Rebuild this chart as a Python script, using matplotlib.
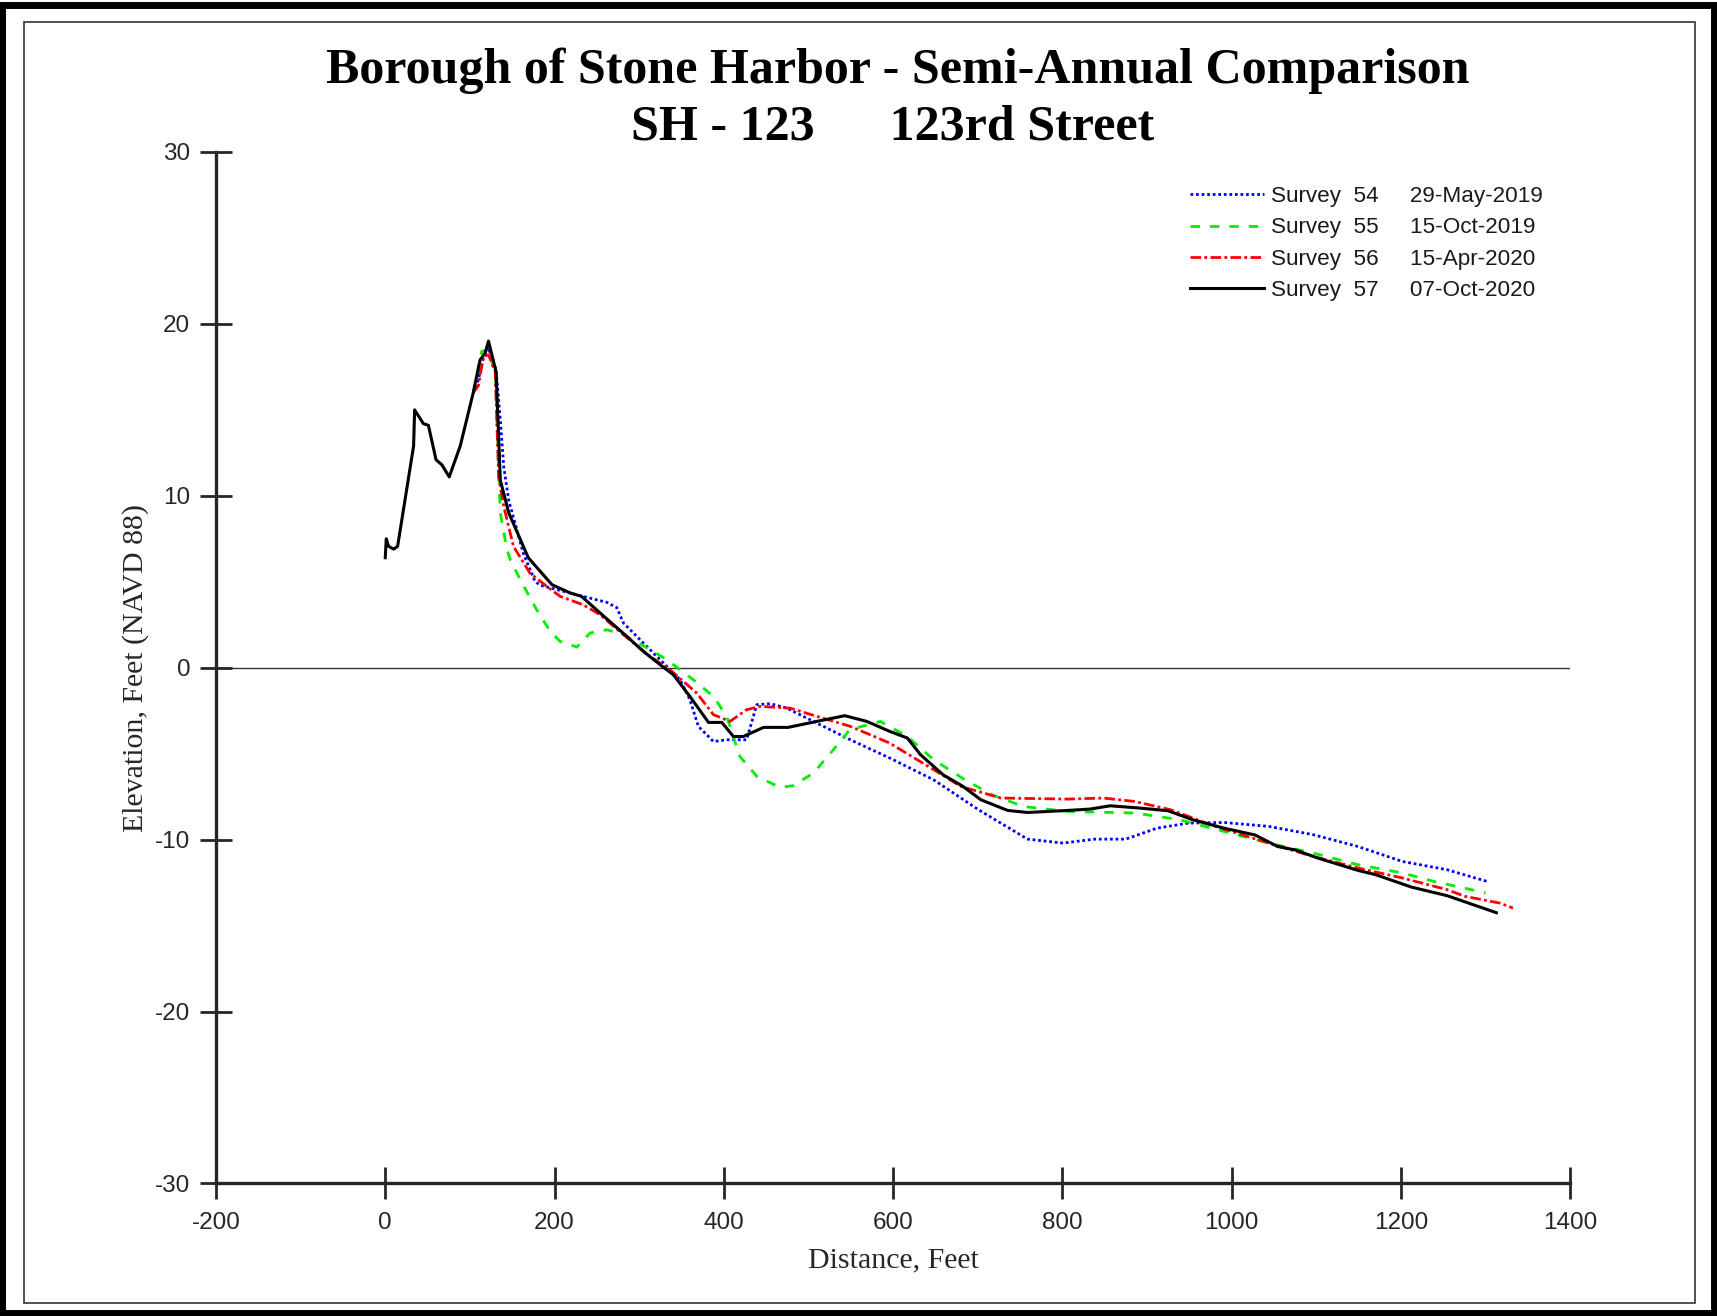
import numpy as np
import matplotlib
matplotlib.use('Agg')
import matplotlib.pyplot as plt
from matplotlib.patches import Rectangle

plt.rcParams['axes.unicode_minus'] = False

# survey 57 - 07-Oct-2020
x57 = [0, 1.2, 4, 10, 14.6, 33.5, 34.7, 45, 51, 60, 67, 75.6, 88.6, 104, 112, 118, 122, 131,
       136, 146, 169, 197, 218.5, 232, 254, 285.5, 305, 325, 340.5, 360, 382, 397.7, 411.4,
       423, 447, 476, 510, 543, 569, 596, 617, 632.5, 659, 682.6, 703.8, 735.4, 759, 806.6,
       833, 856.7, 891, 925, 954, 991, 1028, 1054.5, 1075.5, 1102, 1149.5, 1170.5, 1212.6,
       1254.8, 1313]
y57 = [6.4, 7.5, 7.06, 6.9, 7.06, 12.9, 15.0, 14.2, 14.1, 12.1, 11.8, 11.1, 12.9, 16.0, 17.9,
       18.3, 19.0, 17.2, 10.9, 9.0, 6.4, 4.83, 4.35, 4.15, 3.18, 1.82, 0.95, 0.17, -0.41, -1.67,
       -3.18, -3.18, -4.0, -4.0, -3.47, -3.47, -3.12, -2.79, -3.12, -3.7, -4.09, -5.06, -6.22,
       -6.9, -7.68, -8.3, -8.42, -8.3, -8.22, -8.03, -8.16, -8.32, -8.84, -9.33, -9.73, -10.4,
       -10.6, -11.07, -11.79, -12.04, -12.76, -13.26, -14.25]

# survey 54 - 29-May-2019
x54 = [104, 110, 116, 122, 131, 136, 140, 146, 153.5, 163, 177, 183, 203, 218.5, 238, 262,
       273.5, 281.5, 309, 328.8, 348.5, 360, 370, 387.8, 403.5, 427, 439, 455, 474.5, 510,
       549.6, 596, 648, 701, 759, 801, 838, 875, 912, 949, 991, 1044, 1096.5, 1149.5, 1202,
       1254.8, 1302]
y54 = [16.0, 16.75, 18.0, 18.6, 17.3, 14.4, 11.7, 9.7, 8.4, 6.67, 5.02, 4.8, 4.54, 4.35, 4.1,
       3.8, 3.5, 2.6, 1.24, 0.27, -0.7, -1.86, -3.41, -4.29, -4.19, -4.19, -2.15, -2.09, -2.35,
       -3.22, -4.19, -5.25, -6.52, -8.26, -9.97, -10.2, -9.97, -9.97, -9.33, -9.04, -9.0,
       -9.23, -9.71, -10.4, -11.27, -11.75, -12.43]

# survey 55 - 15-Oct-2019
x55 = [104, 114, 122, 130, 134, 136, 143.7, 147.6, 159.5, 179, 195, 206.7, 226.5, 242, 262,
       281.5, 313, 332.7, 364, 387.8, 403.5, 419, 439, 466.6, 482, 506, 529.5, 549, 585, 617,
       648, 685, 717, 754, 806.6, 885.7, 938.5, 991, 1044, 1096.5, 1149.5, 1202, 1239,
       1291.8, 1300]
y55 = [16.0, 18.4, 18.5, 17.1, 11.5, 9.0, 6.9, 6.3, 5.12, 3.37, 2.11, 1.53, 1.2, 2.02, 2.21,
       1.92, 1.05, 0.47, -0.7, -1.67, -2.83, -5.16, -6.32, -6.96, -6.86, -6.13, -4.77, -3.6,
       -3.12, -4.0, -5.35, -6.52, -7.39, -8.07, -8.36, -8.45, -8.84, -9.52, -10.2, -10.78,
       -11.46, -11.94, -12.43, -13.0, -13.1]

# survey 56 - 15-Apr-2020
x56 = [104, 110, 116, 122, 130, 134, 140, 151.5, 171, 191, 206.7, 234, 254, 281.5, 313, 336.6,
       368, 387.8, 407.5, 427, 443, 478.5, 510, 549.6, 596, 648, 680, 727.5, 806.6, 848.8,
       885.7, 928, 980.7, 1044, 1096.5, 1149.5, 1202, 1254.8, 1276, 1317, 1332.7]
y56 = [16.0, 16.4, 18.1, 18.2, 17.2, 11.1, 9.4, 7.06, 5.5, 4.73, 4.15, 3.66, 3.08, 1.92, 0.66,
       -0.12, -1.47, -2.73, -3.12, -2.44, -2.25, -2.35, -2.83, -3.41, -4.38, -5.93, -6.9,
       -7.58, -7.64, -7.58, -7.78, -8.26, -9.23, -10.2, -10.98, -11.65, -12.23, -12.91,
       -13.3, -13.69, -13.98]

labels = ['Survey  54     29-May-2019',
          'Survey  55     15-Oct-2019',
          'Survey  56     15-Apr-2020',
          'Survey  57     07-Oct-2020']

serif = 'Liberation Serif'
sans = 'Liberation Sans'

fig = plt.figure(figsize=(17.17, 13.16), dpi=100)

# page frames
fig.patches.append(Rectangle((0.001, 0.002), 0.997, 0.994, transform=fig.transFigure,
                             fill=False, ec='black', lw=5))
fig.patches.append(Rectangle((24/1717, 1 - 1303/1316), (1695-24)/1717, (1303-22)/1316,
                             transform=fig.transFigure, fill=False, ec='#333333', lw=1.2))

ax = fig.add_axes([0.1258, 0.1007, 0.7886, 0.7838])

ax.axhline(0, color='#333333', lw=1.0, zorder=1)
ax.plot(x54, y54, color='#0000ff', lw=2.0, linestyle=(0, (1, 1.0)), label=labels[0])
ax.plot(x55, y55, color='#00ee00', lw=2.0, linestyle=(0, (3.4, 3.6)), label=labels[1])
ax.plot(x56, y56, color='#ff0000', lw=2.0, linestyle=(0, (3.8, 1.2, 1, 1.2)), label=labels[2])
ax.plot(x57, y57, color='black', lw=2.2, label=labels[3])

ax.set_xlim(-200, 1400)
ax.set_ylim(-30, 30)
ax.set_xticks(np.arange(-200, 1401, 200))
ax.set_yticks(np.arange(-30, 31, 10))

for s in ['top', 'right']:
    ax.spines[s].set_visible(False)
for s in ['left', 'bottom']:
    ax.spines[s].set_linewidth(2.4)
    ax.spines[s].set_color('#262626')

ax.tick_params(direction='inout', length=23, width=2.0, color='#262626',
               labelsize=17.5, labelcolor='#262626')
ax.tick_params(axis='x', pad=9)
ax.tick_params(axis='y', pad=7)
for lab in ax.get_xticklabels() + ax.get_yticklabels():
    lab.set_fontfamily(sans)

ax.set_xlabel('Distance, Feet', fontsize=21.5, family=serif, color='#262626', labelpad=10)
ax.set_ylabel('Elevation, Feet (NAVD 88)', fontsize=21.5, family=serif, color='#262626',
              labelpad=4)

leg = ax.legend(loc='upper left', bbox_to_anchor=(0.719, 0.967), frameon=False,
                borderpad=0, borderaxespad=0, handlelength=3.3, handletextpad=0.33,
                labelspacing=0.46, prop={'family': sans, 'size': 16.2})
for t in leg.get_texts():
    t.set_color('#1a1a1a')

fig.text(0.523, 1 - 71/1316, 'Borough of Stone Harbor - Semi-Annual Comparison',
         ha='center', va='center', fontsize=36, fontweight='bold', family=serif)
fig.text(0.52, 1 - 128/1316, 'SH - 123      123rd Street',
         ha='center', va='center', fontsize=36, fontweight='bold', family=serif)

fig.savefig('out.png', dpi=100)
